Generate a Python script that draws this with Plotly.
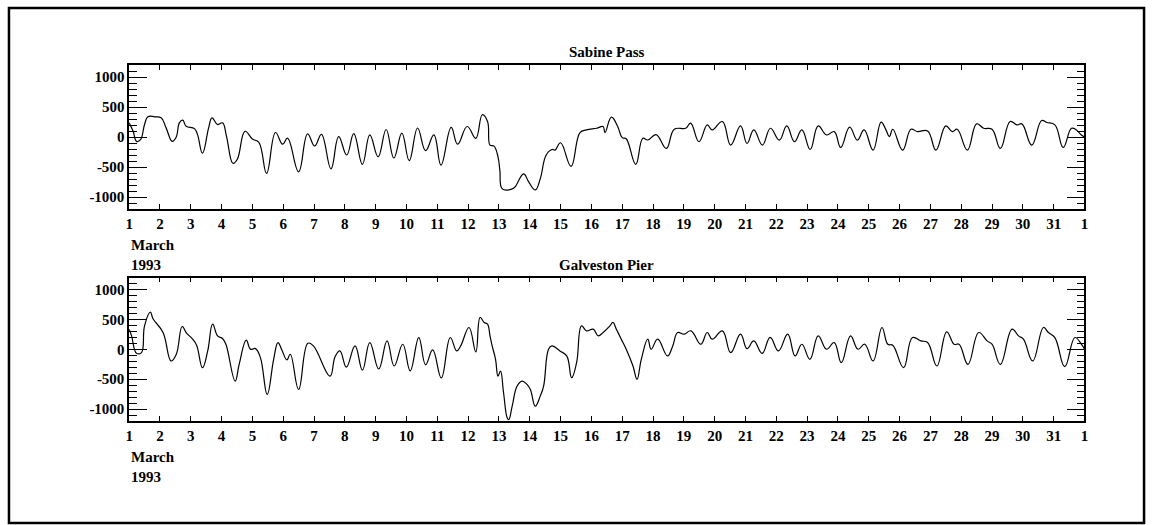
import pandas as pd
import plotly.graph_objects as go
from plotly.subplots import make_subplots

# Water level, March 1993. Time is in days after 1 March 00:00.
sabine_t = [
    0.00, 0.13, 0.24, 0.37, 0.50, 0.61, 0.83, 1.04, 1.20, 1.40, 1.53, 1.63, 1.74, 1.85,
    2.12, 2.22, 2.38, 2.58, 2.69, 2.87, 3.03, 3.16, 3.37, 3.51, 3.76, 4.00, 4.21, 4.46,
    4.75, 4.98, 5.14, 5.50, 5.79, 6.02, 6.24, 6.55, 6.80, 7.06, 7.29, 7.57, 7.81, 8.08,
    8.34, 8.59, 8.85, 9.09, 9.36, 9.62, 9.89, 10.12, 10.45, 10.66, 10.97, 11.25, 11.46,
    11.63, 11.71, 11.84, 11.97, 12.03, 12.11, 12.43, 12.53, 12.80, 12.97, 13.18, 13.34,
    13.53, 13.72, 13.82, 14.00, 14.34, 14.63, 14.84, 15.17, 15.38, 15.44, 15.65, 15.85,
    16.00, 16.13, 16.44, 16.67, 16.83, 17.10, 17.43, 17.69, 18.06, 18.22, 18.49, 18.76,
    18.92, 19.25, 19.52, 19.84, 20.05, 20.27, 20.55, 20.81, 21.10, 21.34, 21.59, 21.83,
    22.10, 22.36, 22.63, 22.88, 23.09, 23.38, 23.63, 23.85, 24.14, 24.40, 24.56, 24.67,
    24.78, 25.10, 25.37, 25.58, 25.91, 26.18, 26.50, 26.71, 26.87, 27.20, 27.50, 27.73,
    28.00, 28.27, 28.59, 28.81, 28.97, 29.29, 29.61, 29.78, 30.04, 30.31, 30.58, 30.74,
    30.90, 31.00,
]
sabine_level = [
    236, 95, -73, -45, 208, 337, 337, 320, 152, -73, 0, 236, 281, 180,
    140, 39, -270, 152, 320, 208, 236, 11, -438, -370, 95, -34, -90, -607,
    75, -120, -20, -580, 52, -150, 45, -530, 5, -300, 55, -455, 35, -330,
    125, -350, 63, -395, 150, -228, 36, -470, 160, -120, 175, -22, 371,
    258, -135, -152, -331, -556, -865, -865, -826, -613, -753, -882, -697,
    -303, -208, -219, -96, -489, 73, 118, 146, 174, 73, 330, 180,
    -10, -30, -455, -22, -50, 40, -191, 129, 146, 230, -79, 202,
    118, 258, -135, 185, -107, 118, -135, 146, -51, 185, -79, 118,
    -208, 185, 34, 90, -174, 163, -51, 118, -219, 247, 118, 6,
    129, -219, 129, 90, 101, -219, 185, 90, 129, -219, 219, 146,
    129, -191, 258, 202, 219, -135, 275, 242, 202, -174, 146, 118,
    34, 0,
]

galveston_t = [
    0.00, 0.08, 0.24, 0.40, 0.50, 0.69, 0.77, 1.10, 1.36, 1.53, 1.72, 1.85, 2.06, 2.19,
    2.38, 2.55, 2.71, 2.87, 3.03, 3.14, 3.44, 3.57, 3.80, 3.94, 4.10, 4.26, 4.48, 4.69,
    4.83, 4.96, 5.12, 5.23, 5.50, 5.80, 5.98, 6.52, 6.68, 6.84, 7.05, 7.33, 7.57, 7.81,
    8.10, 8.37, 8.60, 8.88, 9.12, 9.40, 9.62, 9.85, 10.13, 10.42, 10.63, 10.76, 11.03,
    11.25, 11.39, 11.52, 11.63, 11.71, 11.78, 11.89, 11.97, 12.05, 12.15, 12.27, 12.32,
    12.43, 12.59, 12.75, 12.91, 13.02, 13.18, 13.34, 13.45, 13.61, 13.72, 13.98, 14.20,
    14.36, 14.52, 14.68, 14.84, 15.06, 15.22, 15.38, 15.60, 15.70, 15.81, 15.97, 16.13,
    16.35, 16.48, 16.62, 16.83, 16.94, 17.15, 17.47, 17.64, 17.80, 18.01, 18.23, 18.55,
    18.76, 18.92, 19.25, 19.52, 19.84, 20.05, 20.27, 20.54, 20.80, 21.07, 21.37, 21.61,
    21.83, 22.09, 22.36, 22.63, 22.88, 23.11, 23.41, 23.65, 23.87, 24.14, 24.43, 24.62,
    24.78, 25.13, 25.42, 25.69, 25.91, 26.21, 26.53, 26.77, 26.93, 27.22, 27.57, 27.84,
    28.00, 28.27, 28.65, 28.86, 29.02, 29.32, 29.67, 29.83, 30.04, 30.36, 30.69, 30.90,
    31.00,
]
galveston_level = [
    336, 224, -67, -56, 392, 620, 515, 280, -196, -84, 381, 280, 168, 67,
    -308, -28, 420, 224, 179, 84, -532, -252, 151, 0, 11, -140, -756, -168,
    112, -17, -179, -84, -672, 101, 56, -450, -129, -28, -300, 56, -350, 112,
    -330, 140, -280, 84, -360, 196, -260, -11, -480, 196, -28, 56, 364,
    -45, 532, 448, 420, 224, 56, -168, -448, -364, -728, -1148, -1176,
    -952, -616, -532, -588, -672, -952, -784, -616, 0, 56, -28, -112,
    -476, -224, 392, 308, 336, 224, 280, 392, 448, 336, 168, 0,
    -280, -504, -168, 168, 0, 168, -112, 56, 280, 252, 308, 84,
    280, 168, 308, -56, 252, 11, 140, -70, 200, -28, 252, -112,
    84, -168, 224, 0, 112, -224, 224, 0, 84, -196, 364, 84,
    67, -308, 196, 140, 112, -280, 291, 84, 84, -252, 280, 140,
    84, -252, 336, 224, 168, -196, 364, 280, 196, -291, 196, 84,
    0,
]

panel_titles = ["Sabine Pass", "Galveston Pier"]
level_ticks = [-1000, -500, 0, 500, 1000]
level_tick_labels = ["-1000", "-500", "0", "500", "1000"]

start = pd.Timestamp("1993-03-01")
end = pd.Timestamp("1993-04-01")


def to_time(days):
    return start + pd.to_timedelta(days, unit="D")


FONT = dict(family="Liberation Serif, Times New Roman, serif", size=15, color="black", weight="bold")

W, H = 1154, 525
plot_left, plot_right = 126, 1088
panels_px = [(65, 209), (277.5, 421)]  # (top, bottom) of each plot area in pixels

fig = make_subplots(rows=2, cols=1)

series = [(sabine_t, sabine_level), (galveston_t, galveston_level)]
for i, (t, lv) in enumerate(series, start=1):
    fig.add_trace(
        go.Scatter(
            x=to_time(t), y=lv, mode="lines",
            line=dict(color="black", width=1.2, shape="spline", smoothing=1.2),
            showlegend=False, hoverinfo="skip",
        ),
        row=i, col=1,
    )

for i, (top, bottom) in enumerate(panels_px, start=1):
    sfx = "" if i == 1 else str(i)
    fig.layout["xaxis" + sfx].update(
        domain=[plot_left / W, plot_right / W],
        type="date", range=[start, end], dtick=86400000, tick0=start,
        tickformat="%-d", ticks="inside", ticklen=5, tickwidth=1, tickcolor="black",
        showline=True, linecolor="black", linewidth=1.5, mirror="ticks",
        showgrid=False, zeroline=False, tickfont=FONT,
    )
    fig.layout["yaxis" + sfx].update(
        domain=[1 - bottom / H, 1 - top / H],
        range=[-1200, 1200], tickmode="array", tickvals=level_ticks, ticktext=level_tick_labels,
        ticks="inside", ticklen=18, tickwidth=1, tickcolor="black",
        minor=dict(tickmode="linear", tick0=0, dtick=100, ticks="inside", ticklen=8,
                   tickwidth=1, tickcolor="black", showgrid=False),
        showline=True, linecolor="black", linewidth=1.5, mirror="ticks",
        showgrid=False, zeroline=False, tickfont=FONT,
    )
    # panel title
    fig.add_annotation(
        text=panel_titles[i - 1], xref="paper", yref="paper",
        x=(plot_left + plot_right) / 2 / W, y=1 - (top - 13) / H,
        xanchor="center", yanchor="middle", showarrow=False, font=FONT,
    )
    # month / year label under the day axis
    fig.add_annotation(
        text="March<br>1993", xref="paper", yref="paper",
        x=plot_left / W, y=1 - (bottom + 26) / H,
        xanchor="left", yanchor="top", align="left", showarrow=False, font=FONT,
    )

# outer frame
fig.add_shape(
    type="rect", xref="paper", yref="paper",
    x0=5 / W, x1=1148 / W, y0=1 - 523 / H, y1=1 - 8 / H,
    line=dict(color="black", width=2.5),
)

fig.update_layout(
    width=W, height=H, autosize=False,
    margin=dict(l=0, r=0, t=0, b=0),
    paper_bgcolor="white", plot_bgcolor="white",
    font=FONT,
)

fig.write_html("out.html")
